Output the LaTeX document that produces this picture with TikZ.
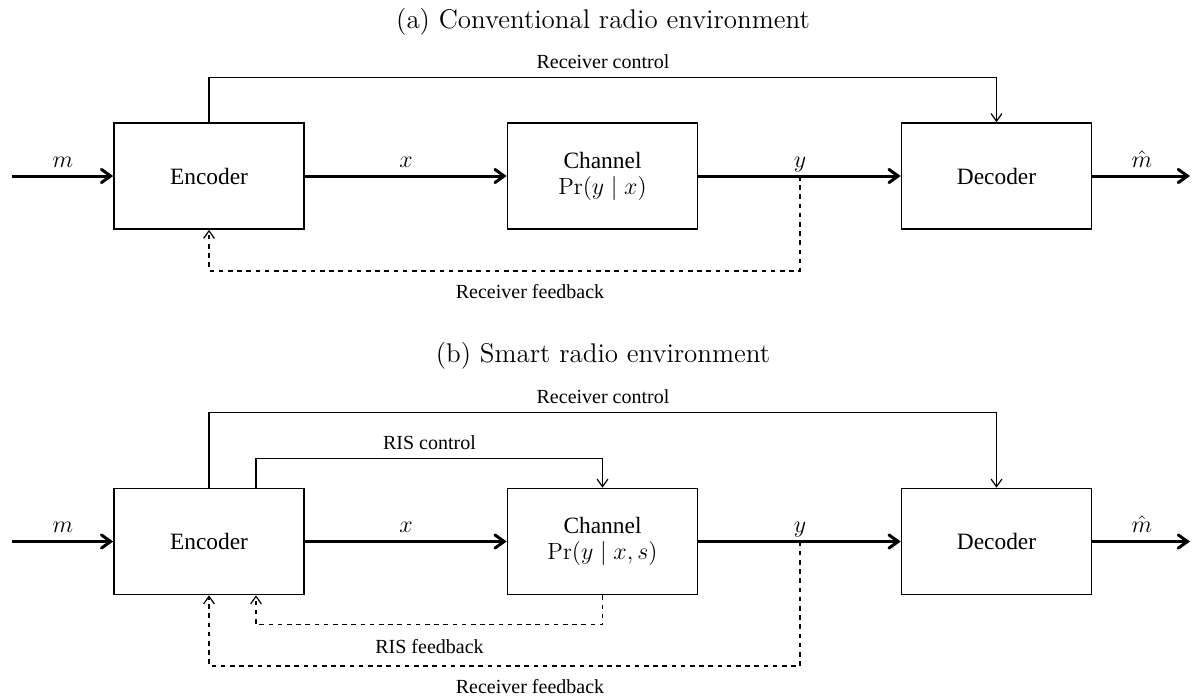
\documentclass[tikz,border=0pt]{standalone}
\usepackage{fontspec}
\newfontfamily\tms{Liberation Serif}
\usetikzlibrary{calc,arrows.meta}
\begin{document}
\begin{tikzpicture}[x=0.5pt,y=-0.5pt,
  blk/.style={draw,line width=0.8pt,minimum width=95pt,minimum height=53pt,
    inner sep=0pt,align=center,font=\tms\fontsize{11.7}{13}\selectfont},
  sig/.style={line width=1.5pt,-{Straight Barb[length=4.6pt,width=6.6pt,line cap=round]}},
  ctl/.style={line width=0.6pt,-{Straight Barb[length=3.8pt,width=5.4pt]}},
  fb/.style={line width=0.6pt,dash pattern=on 2.3pt off 2.3pt,
    -{Straight Barb[length=3.8pt,width=5.4pt]}},
  lab/.style={anchor=base,inner sep=0pt,font=\tms\fontsize{10}{12}\selectfont},
  var/.style={anchor=base,inner sep=0pt,font=\fontsize{11.7}{13}\selectfont},
  ttl/.style={anchor=base,inner sep=0pt,font=\fontsize{13.5}{16}\selectfont}]
\useasboundingbox (0,0) rectangle (1192,697);

% ---------- (a) conventional radio environment ----------
\node[ttl] (ta) at (603,28) {(a) Conventional radio environment};
\node[blk] (enc) at (209,176) {Encoder};
\node[blk] (ch) at (602.5,176) {Channel\\$\Pr(y\mid x)$};
\node[blk] (dec) at (996.5,176) {Decoder};
\coordinate (in) at (12,176);
\coordinate (out) at (1190,176);
\coordinate (tap) at (800,176);

\draw[sig] (in) -- (enc.west);
\draw[sig] (enc.east) -- (ch.west);
\draw[sig] (ch.east) -- (dec.west);
\draw[sig] (dec.east) -- (out);

\node[var] (lm) at (63,167) {$m$};
\node[var] (lx) at (406,167) {$x$};
\node[var] (ly) at (800,167) {$y$};
\node[var] (lmh) at (1142,167) {$\hat{m}$};

\draw[ctl] (enc.north) -- ++(0,-45) -| (dec.north);
\node[lab] (lrc) at (603,68) {Receiver control};
\draw[fb] (tap) -- ++(0,95) -| (enc.south);
\node[lab] (lrf) at (530,298) {Receiver feedback};

% ---------- (b) smart radio environment ----------
\node[ttl] (tb) at (603,362) {(b) Smart radio environment};
\node[blk] (enc2) at (209,541.5) {Encoder};
\node[blk] (ch2) at (602.5,541.5) {Channel\\$\Pr(y\mid x,s)$};
\node[blk] (dec2) at (996.5,541.5) {Decoder};
\coordinate (in2) at (12,541.5);
\coordinate (out2) at (1190,541.5);
\coordinate (tap2) at (800,541.5);

\draw[sig] (in2) -- (enc2.west);
\draw[sig] (enc2.east) -- (ch2.west);
\draw[sig] (ch2.east) -- (dec2.west);
\draw[sig] (dec2.east) -- (out2);

\node[var] (lm2) at (63,532.5) {$m$};
\node[var] (lx2) at (406,532.5) {$x$};
\node[var] (ly2) at (800,532.5) {$y$};
\node[var] (lmh2) at (1142,532.5) {$\hat{m}$};

\draw[ctl] (enc2.north) -- ++(0,-75.5) -| (dec2.north);
\node[lab] (lrc2) at (603,403) {Receiver control};
\draw[ctl] ($(enc2.north)+(47,0)$) -- ++(0,-29.5) -| (ch2.north);
\node[lab] (lsc) at (429.5,449) {RIS control};
\draw[fb] (ch2.south) -- ++(0,29.5) -| ($(enc2.south)+(47,0)$);
\node[lab] (lsf) at (429.5,653) {RIS feedback};
\draw[fb] (tap2) -- ++(0,124.5) -| (enc2.south);
\node[lab] (lrf2) at (530,693) {Receiver feedback};
\end{tikzpicture}
\end{document}
